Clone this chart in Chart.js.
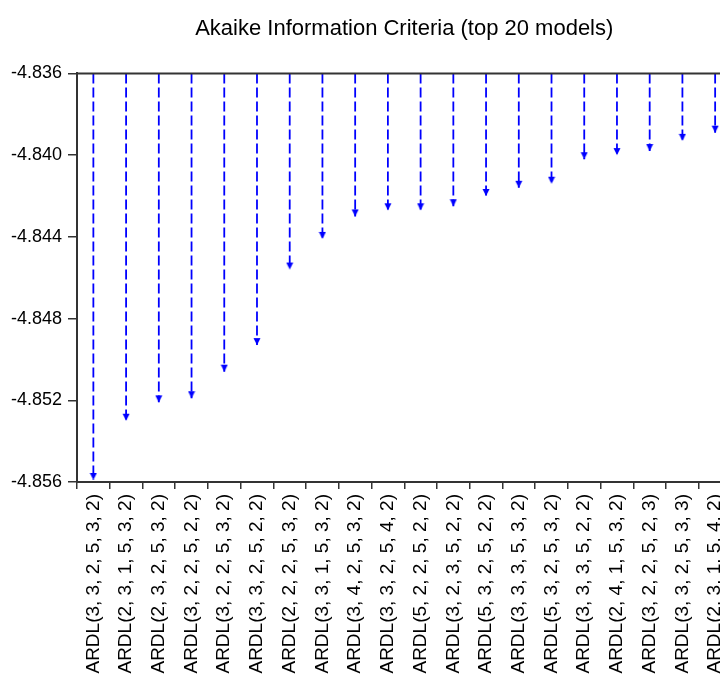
<!DOCTYPE html>
<html>
<head>
<meta charset="utf-8">
<script src="https://cdn.jsdelivr.net/npm/chart.js@4"></script>
<style>
    html, body { margin: 0; padding: 0; overflow: hidden; background: #fff; }
</style>
</head>
<body>
<canvas id="aicChart" width="740" height="678"></canvas>
<script>
const models = [
    'ARDL(3, 3, 2, 5, 3, 2)', 'ARDL(2, 3, 1, 5, 3, 2)', 'ARDL(2, 3, 2, 5, 3, 2)',
    'ARDL(3, 2, 2, 5, 2, 2)', 'ARDL(3, 2, 2, 5, 3, 2)', 'ARDL(3, 3, 2, 5, 2, 2)',
    'ARDL(2, 2, 2, 5, 3, 2)', 'ARDL(3, 3, 1, 5, 3, 2)', 'ARDL(3, 4, 2, 5, 3, 2)',
    'ARDL(3, 3, 2, 5, 4, 2)', 'ARDL(5, 2, 2, 5, 2, 2)', 'ARDL(3, 2, 3, 5, 2, 2)',
    'ARDL(5, 3, 2, 5, 2, 2)', 'ARDL(3, 3, 3, 5, 3, 2)', 'ARDL(5, 3, 2, 5, 3, 2)',
    'ARDL(3, 3, 3, 5, 2, 2)', 'ARDL(2, 4, 1, 5, 3, 2)', 'ARDL(3, 2, 2, 5, 2, 3)',
    'ARDL(3, 3, 2, 5, 3, 3)', 'ARDL(2, 3, 1, 5, 4, 2)'
];
const aicValues = [
    -4.8559, -4.8530, -4.8521, -4.8519, -4.8506, -4.8493, -4.8456,
    -4.8441, -4.8430, -4.8427, -4.8427, -4.8425, -4.8420, -4.8416,
    -4.8414, -4.8402, -4.8400, -4.8398, -4.8393, -4.8389
];
const yTicks = [-4.836, -4.840, -4.844, -4.848, -4.852, -4.856];
const yTop = -4.836;
const yBottom = -4.856;

// arrow head, tip sits at the centre of the image so it lands on the value
function makeArrowHead() {
    const c = document.createElement('canvas');
    c.width = 8;
    c.height = 16;
    const g = c.getContext('2d');
    g.fillStyle = '#0000ff';
    g.beginPath();
    g.moveTo(0.5, 1);
    g.lineTo(7.5, 1);
    g.lineTo(4, 8);
    g.closePath();
    g.fill();
    return c;
}
const arrowHead = makeArrowHead();

// each model: point at top of the frame, point at its value, then a gap
const dropLines = [];
models.forEach((m, i) => {
    dropLines.push({x: m, y: yTop});
    dropLines.push({x: m, y: aicValues[i]});
    dropLines.push({x: m, y: null});
});

const frameTop = {
    id: 'frameTop',
    afterDraw(chart) {
        const {ctx, chartArea: a} = chart;
        ctx.save();
        ctx.strokeStyle = '#333';
        ctx.lineWidth = 2;
        ctx.beginPath();
        ctx.moveTo(a.left, a.top);
        ctx.lineTo(a.right, a.top);
        ctx.lineTo(a.right, a.bottom);
        ctx.stroke();
        ctx.restore();
    }
};

const ctx = document.getElementById('aicChart').getContext('2d');
const aicChart = new Chart(ctx, {
    type: 'line',
    data: {
        labels: models,
        datasets: [{
            data: dropLines,
            borderColor: '#0000ff',
            borderWidth: 1.8,
            borderDash: [10, 4],
            spanGaps: false,
            pointRadius: 3,
            pointStyle: (c) => (c.dataIndex % 3 === 1 ? arrowHead : false),
            clip: 4
        }]
    },
    plugins: [frameTop],
    options: {
        responsive: false,
        animation: false,
        layout: {padding: {left: 11, right: 8.5, top: 0, bottom: 0}},
        plugins: {
            legend: {display: false},
            tooltip: {enabled: false},
            title: {
                display: true,
                text: 'Akaike Information Criteria (top 20 models)',
                color: '#000',
                fullSize: false,
                font: {family: "'Liberation Sans', Arial, sans-serif", size: 22, weight: 'normal'},
                padding: {top: 16, bottom: 31}
            }
        },
        scales: {
            x: {
                type: 'category',
                offset: true,
                grid: {offset: true, drawOnChartArea: false, tickLength: 7, color: '#333', lineWidth: 1.5},
                border: {color: '#333', width: 2},
                ticks: {
                    autoSkip: false, maxRotation: 90, minRotation: 90, padding: 5,
                    color: '#000', font: {family: "'Liberation Sans', Arial, sans-serif", size: 19}
                },
                afterFit: (s) => {
                    s.height = 196;
                    s.paddingLeft = 0;
                    s.paddingRight = 0;
                }
            },
            y: {
                min: yBottom,
                max: yTop,
                grid: {drawOnChartArea: false, tickLength: 9, color: '#333', lineWidth: 1.5},
                border: {color: '#333', width: 2},
                ticks: {
                    padding: 6, color: '#000',
                    font: {family: "'Liberation Sans', Arial, sans-serif", size: 18},
                    callback: (v) => Number(v).toFixed(3)
                },
                afterBuildTicks: (s) => { s.ticks = yTicks.map(v => ({value: v})); },
                afterFit: (s) => { s.width = 66; }
            }
        }
    }
});
</script>
</body>
</html>
